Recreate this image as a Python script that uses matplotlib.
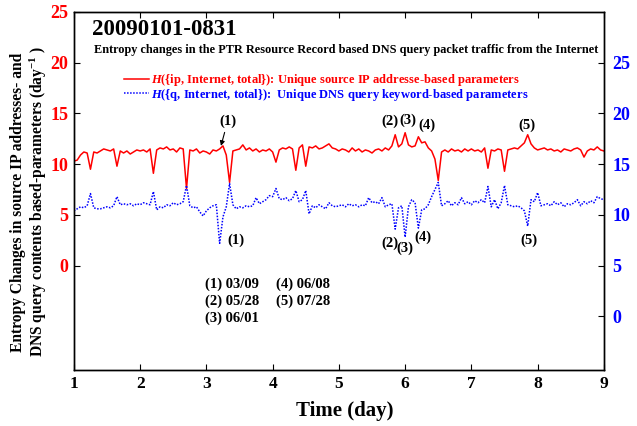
import numpy as np
import matplotlib
matplotlib.use("Agg")
import matplotlib.pyplot as plt

plt.rcParams['font.family'] = ['Liberation Serif', 'DejaVu Serif']
plt.rcParams['font.weight'] = 'bold'
plt.rcParams['mathtext.fontset'] = 'custom'
plt.rcParams['mathtext.rm'] = 'Liberation Serif:bold'
plt.rcParams['mathtext.it'] = 'Liberation Serif:italic:bold'
plt.rcParams['mathtext.bf'] = 'Liberation Serif:bold'

# time axis, one sample every 0.05 day
days = np.round(np.arange(1.0, 9.0001, 0.05), 2)

# H({ip, Internet, total}) - left axis
h_ip = [
    10.3, 10.4, 10.9, 11.2, 11.1, 9.5, 11.2, 11.1, 11.3, 11.5, 11.4, 11.3, 11.5, 9.8, 11.3, 11.1, 11.3, 11.0, 11.2, 11.4,
    11.3, 11.4, 11.2, 11.5, 9.1, 11.4, 11.6, 11.5, 11.7, 11.4, 11.5, 11.2, 11.6, 11.5, 7.6, 11.4, 11.3, 11.5, 11.1, 11.3,
    11.2, 11.0, 11.4, 11.3, 11.5, 11.8, 10.9, 8.2, 11.3, 11.4, 11.5, 11.9, 11.4, 11.6, 11.3, 11.5, 11.2, 11.4, 11.3, 11.5,
    11.2, 10.2, 11.4, 11.6, 11.5, 11.7, 11.5, 9.4, 11.6, 11.9, 9.8, 11.7, 11.6, 11.8, 11.5, 11.6, 11.8, 12.0, 11.6, 11.5,
    11.3, 11.5, 11.4, 11.2, 11.6, 11.3, 11.5, 11.2, 11.4, 11.3, 11.1, 11.4, 11.5, 11.3, 11.6, 11.4, 11.8, 12.9, 11.7, 12.0,
    13.1, 11.9, 11.7, 11.8, 12.7, 12.1, 12.2, 11.6, 11.3, 10.5, 8.4, 11.2, 11.4, 11.2, 11.5, 11.3, 11.4, 11.2, 11.5, 11.3,
    11.5, 11.3, 11.4, 11.2, 11.6, 9.6, 11.4, 11.3, 11.5, 11.4, 9.3, 11.4, 11.5, 11.6, 11.5, 11.8, 12.1, 12.9, 12.0, 11.6,
    11.4, 11.5, 11.6, 11.4, 11.5, 11.3, 11.4, 11.2, 11.5, 11.4, 11.3, 11.5, 11.6, 11.4, 10.7, 11.3, 11.5, 11.4, 11.7, 11.4,
    11.3,
]

# H({q, Internet, total}) - right axis
h_q = [
    10.4, 10.6, 10.8, 10.7, 10.9, 12.1, 10.7, 10.6, 10.6, 10.7, 10.8, 10.7, 10.9, 11.8, 11.0, 11.1, 11.0, 11.1, 10.9, 11.1,
    11.0, 11.2, 11.1, 11.0, 12.3, 10.5, 10.8, 10.7, 11.0, 10.9, 11.2, 11.0, 11.1, 11.3, 12.9, 10.9, 10.7, 10.8, 10.3, 9.9,
    10.4, 10.7, 10.9, 11.0, 7.2, 9.8, 10.8, 13.1, 11.0, 10.6, 10.8, 10.7, 10.9, 10.8, 10.9, 11.7, 11.1, 11.3, 11.5, 11.9,
    11.8, 12.6, 11.6, 11.5, 11.7, 11.4, 11.6, 12.4, 11.3, 11.5, 12.4, 10.1, 10.9, 10.7, 11.0, 10.8, 10.6, 11.2, 10.9, 10.8,
    10.9, 11.0, 10.8, 11.1, 10.9, 11.0, 10.8, 11.0, 10.9, 11.7, 11.2, 11.3, 11.1, 11.7, 10.8, 11.0, 11.1, 8.6, 10.7, 10.9,
    7.8, 10.8, 11.5, 11.2, 8.7, 10.5, 10.6, 11.0, 11.8, 12.5, 13.2, 10.9, 11.1, 11.4, 10.9, 11.2, 11.0, 11.7, 11.1, 11.3,
    11.0, 11.4, 11.2, 11.5, 11.2, 12.8, 10.8, 11.5, 10.6, 11.2, 12.9, 11.0, 10.9, 10.8, 10.9, 10.7, 10.4, 8.9, 11.5, 11.3,
    12.2, 10.9, 11.0, 11.1, 10.9, 11.3, 11.0, 11.2, 10.8, 11.1, 11.0, 11.2, 11.5, 10.9, 11.3, 11.1, 11.4, 11.2, 11.8, 11.6,
    11.5,
]

event_dates = ["(1) 03/09", "(2) 05/28", "(3) 06/01", "(4) 06/08", "(5) 07/28"]

red = '#ff0000'
blue = '#0000ff'

fig = plt.figure(figsize=(6.37, 4.26), dpi=100)
ax = fig.add_axes([0.116, 0.131, 0.832, 0.841])
ax2 = ax.twinx()

l1, = ax.plot(days, h_ip, color=red, lw=1.1)
l2, = ax2.plot(days, h_q, color=blue, lw=1.1, ls=(0, (1, 1)))

ax.set_xlim(1, 9)
ax.set_ylim(-10.3, 25)
ax2.set_ylim(-5.3, 30)
ax.set_xticks(range(1, 10))
ax.set_yticks([0, 5, 10, 15, 20, 25])
ax2.set_yticks([0, 5, 10, 15, 20, 25])

ax.tick_params(axis='x', direction='in', top=True, labelsize=12.5, pad=4, length=4)
ax.tick_params(axis='y', direction='in', labelcolor=red, labelsize=13, length=4, pad=4)
ax2.tick_params(axis='y', direction='in', labelcolor=blue, labelsize=13, length=4, pad=6)
for lab in ax.get_xticklabels() + ax.get_yticklabels() + ax2.get_yticklabels():
    lab.set_fontweight('bold')

ax.set_xlabel('Time (day)', fontsize=15, fontweight='bold')
ax.xaxis.set_label_coords(0.511, -0.085)
fig.text(0.046, 0.526,
         'Entropy Changes in source IP addresses- and\nDNS query contents based-parameters (day$^{-1}$ )',
         rotation=90, ha='center', va='center', multialignment='center',
         fontsize=11.2, fontweight='bold', linespacing=1.08)

ax.text(0.034, 0.95, '20090101-0831', transform=ax.transAxes, fontsize=16.5,
        fontweight='bold', va='center', ha='left')
ax.text(0.038, 0.894, 'Entropy changes in the PTR Resource Record based DNS query packet traffic from the Internet',
        transform=ax.transAxes, fontsize=8.8, fontweight='bold', va='center', ha='left')

leg = ax.legend([l1, l2],
                ['$H$({ip, Internet, total}): Unique source IP addresse-based parameters',
                 '$H$({q, Internet, total}):  Unique DNS query keyword-based parameters'],
                loc='upper left', bbox_to_anchor=(0.094, 0.832), frameon=False,
                fontsize=9, handlelength=2.0, handletextpad=0.15, labelspacing=-0.12,
                borderpad=0, borderaxespad=0)
for txt, c in zip(leg.get_texts(), [red, blue]):
    txt.set_color(c)
    txt.set_fontweight('bold')

# event markers
ax.annotate('(1)', xy=(3.22, 11.8), xytext=(3.32, 14.2), ha='center', va='center',
            fontsize=10.5, fontweight='bold',
            arrowprops=dict(arrowstyle='-|>', color='black', lw=0.8, shrinkA=1, shrinkB=0,
                            mutation_scale=7))
top_marks = [('(2)', 5.77, 14.2), ('(3)', 6.04, 14.3), ('(4)', 6.33, 13.8), ('(5)', 7.84, 13.8)]
low_marks = [('(1)', 3.45, 2.5), ('(2)', 5.77, 2.2), ('(3)', 6.0, 1.7), ('(4)', 6.27, 2.8), ('(5)', 7.87, 2.5)]
for s, x, y in top_marks + low_marks:
    ax.text(x, y, s, ha='center', va='center', fontsize=10.5, fontweight='bold')

# date table
ax.text(2.98, -1.8, event_dates[0], fontsize=10.5, fontweight='bold', va='center')
ax.text(2.98, -3.5, event_dates[1], fontsize=10.5, fontweight='bold', va='center')
ax.text(2.98, -5.2, event_dates[2], fontsize=10.5, fontweight='bold', va='center')
ax.text(4.05, -1.8, event_dates[3], fontsize=10.5, fontweight='bold', va='center')
ax.text(4.05, -3.5, event_dates[4], fontsize=10.5, fontweight='bold', va='center')

for a in (ax, ax2):
    for sp in a.spines.values():
        sp.set_linewidth(1.0)

fig.savefig('out.png', dpi=100)
